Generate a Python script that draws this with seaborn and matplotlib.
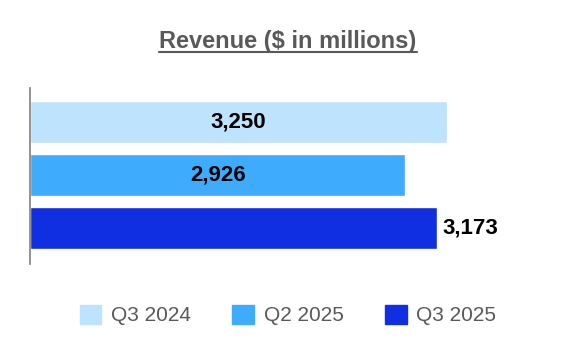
import matplotlib
matplotlib.use('Agg')
import matplotlib.pyplot as plt
import matplotlib.patches as mpatches
from matplotlib.lines import Line2D
import seaborn as sns

periods = ['Q3 2024', 'Q2 2025', 'Q3 2025']
revenue = [3250, 2926, 3173]
colors = ['#BEE3FD', '#3EABFD', '#0F2FE0']

sns.set_style('white')
plt.rcParams['font.family'] = ['Liberation Sans', 'DejaVu Sans']

fig = plt.figure(figsize=(5.76, 3.64), dpi=100)
ax = fig.add_axes([30 / 576, 1 - 264 / 364, 513 / 576, 176 / 364])

sns.barplot(x=revenue, y=periods, hue=periods, palette=colors, order=periods,
            hue_order=periods, width=0.8, legend=False, ax=ax, saturation=1)

ax.set_xlim(0, 4000)
ax.set_ylim(2.68, -0.65)
for s in ['top', 'right', 'bottom']:
    ax.spines[s].set_visible(False)
ax.spines['left'].set_color('#808080')
ax.spines['left'].set_linewidth(1.2)
ax.set_xticks([])
ax.set_yticks([])
ax.set_xlabel('')
ax.set_ylabel('')

# value labels: inside for first two, outside for the last
for i, v in enumerate(revenue):
    txt = f'{v:,}'
    if i < 2:
        ax.text(v / 2, i, txt, ha='center', va='center', fontsize=16,
                fontweight='bold', color='black')
    else:
        ax.text(v + 40, i, txt, ha='left', va='center', fontsize=16,
                fontweight='bold', color='black')

# underlined title
title = fig.text(0.5, 1 - 48 / 364, 'Revenue ($ in millions)', ha='center',
                 va='baseline', fontsize=17, fontweight='bold', color='#595959')
fig.canvas.draw()
bb = title.get_window_extent(renderer=fig.canvas.get_renderer())
inv = fig.transFigure.inverted()
(x0, y0), (x1, y1) = inv.transform([(bb.x0, bb.y0), (bb.x1, bb.y1)])
fig.add_artist(Line2D([x0, x1], [1 - 52 / 364, 1 - 52 / 364], color='#595959',
                      linewidth=1.5, transform=fig.transFigure))

handles = [mpatches.Patch(color=c, label=p) for p, c in zip(periods, colors)]
fig.legend(handles=handles, loc='center', bbox_to_anchor=(0.5, 1 - 315 / 364),
           ncol=3, frameon=False, fontsize=15, labelcolor='#595959',
           handlelength=1.05, handleheight=1.05, handletextpad=0.45,
           columnspacing=2.0)

fig.savefig('out.png', dpi=100)
